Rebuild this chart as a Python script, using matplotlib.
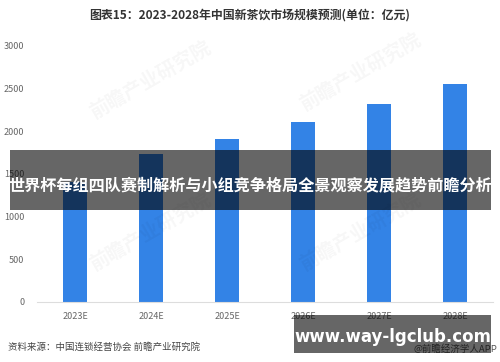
import matplotlib
matplotlib.use("Agg")
import matplotlib.pyplot as plt

plt.rcParams['font.family'] = ['Noto Sans CJK SC', 'DejaVu Sans']

# data
years = ['2023E', '2024E', '2025E', '2026E', '2027E', '2028E']
market = [1400, 1733, 1909, 2108, 2318, 2553]
yticks = [0, 500, 1000, 1500, 2000, 2500, 3000]

title = '图表15：2023-2028年中国新茶饮市场规模预测(单位：亿元)'
banner = '世界杯每组四队赛制解析与小组竞争格局全景观察发展趋势前瞻分析'
source = '资料来源：中国连锁经营协会 前瞻产业研究院'
credit = '@前瞻经济学人APP'
site = 'www.way-lgclub.com'

fig = plt.figure(figsize=(5, 3.62), dpi=100)
ax = fig.add_axes([0.074, 0.166, 0.912, 0.707])

x = range(len(years))
ax.bar(x, market, width=0.32, color='#3383E6', zorder=2)
ax.set_xlim(-0.5, 5.5)
ax.set_ylim(0, 3000)
ax.set_yticks(yticks)
ax.set_xticks(list(x))
ax.set_xticklabels(years)
ax.tick_params(axis='both', length=0, labelsize=6.5, labelcolor='#666666')
ax.tick_params(axis='x', pad=7)
ax.tick_params(axis='y', pad=9)
for s in ['top', 'right', 'left']:
    ax.spines[s].set_visible(False)
ax.spines['bottom'].set_color('#dddddd')
ax.spines['bottom'].set_linewidth(0.8)

# faint watermarks
for wx, wy in [(0.3, 0.78), (0.72, 0.8), (0.3, 0.36), (0.72, 0.36)]:
    fig.text(wx, wy, '前瞻产业研究院', fontsize=14, color='#000000', alpha=0.035,
             rotation=30, ha='center', va='center', fontweight='bold')

fig.text(0.5, 0.958, title, ha='center', va='center', fontsize=8.6,
         fontweight='bold', color='#333333')
fig.text(0.016, 0.041, source, ha='left', va='center', fontsize=6.8, color='#444444')
fig.text(0.994, 0.036, credit, ha='right', va='center', fontsize=6.8, color='#555555')

# overlay bands
fig.patches.append(plt.Rectangle((0.02, 0.42), 0.962, 0.165, transform=fig.transFigure,
                                 facecolor='black', alpha=0.6, zorder=5))
fig.text(0.5, 0.488, banner, ha='center', va='center', fontsize=11.6,
         fontweight='bold', color='white', zorder=6)
fig.patches.append(plt.Rectangle((0.588, 0.025), 0.394, 0.105, transform=fig.transFigure,
                                 facecolor='black', alpha=0.6, zorder=5))
fig.text(0.785, 0.069, site, ha='center', va='center', fontsize=12,
         fontweight='bold', color='white', zorder=6, family='DejaVu Sans')

fig.savefig('out.png', dpi=100)
